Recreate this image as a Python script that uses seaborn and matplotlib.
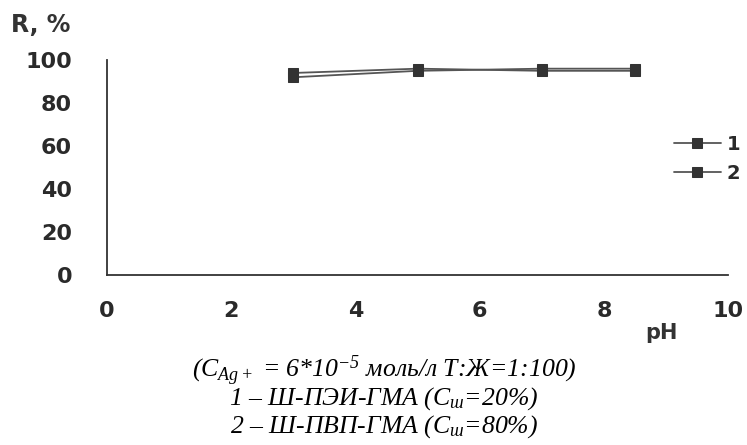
import matplotlib
matplotlib.use("Agg")
import matplotlib.pyplot as plt
import seaborn as sns
import pandas as pd

ph = [3, 5, 7, 8.5]
series1 = [92, 95, 96, 96]
series2 = [94, 96, 95, 95]
labels = ["1", "2"]
xticks = [0, 2, 4, 6, 8, 10]
yticks = [0, 20, 40, 60, 80, 100]

df = pd.DataFrame({
    "pH": ph * 2,
    "R": series1 + series2,
    "series": [labels[0]] * len(ph) + [labels[1]] * len(ph),
})

sns.set_theme(style="white")
plt.rcParams["font.family"] = ["DejaVu Sans"]
plt.rcParams["mathtext.fontset"] = "custom"
plt.rcParams["mathtext.rm"] = "Liberation Serif:italic"
plt.rcParams["mathtext.it"] = "Liberation Serif:italic"

fig = plt.figure(figsize=(7.47, 4.45), dpi=100)
ax = fig.add_axes([0.143, 0.382, 0.832, 0.483])

sns.lineplot(data=df, x="pH", y="R", hue="series", style="series",
             palette=["#555555", "#555555"], markers=["s", "s"], dashes=False,
             markersize=7, markeredgecolor="#333333", markerfacecolor="#333333",
             linewidth=1.3, ax=ax, legend=True)

ax.set_xlim(0, 10)
ax.set_ylim(0, 100)
ax.set_xticks(xticks)
ax.set_yticks(yticks)
ax.set_xticklabels([str(t) for t in xticks])
ax.set_yticklabels([str(t) for t in yticks])
ax.set_xlabel("")
ax.set_ylabel("")
for s in ["top", "right"]:
    ax.spines[s].set_visible(False)
for s in ["left", "bottom"]:
    ax.spines[s].set_color("#333333")
    ax.spines[s].set_linewidth(1.3)
ax.tick_params(axis="both", direction="out", length=5, width=1.2, color="#333333",
               labelsize=16, labelcolor="#2a2a2a")
ax.tick_params(axis="x", pad=14)
ax.tick_params(axis="y", pad=20)
for lab in ax.get_xticklabels() + ax.get_yticklabels():
    lab.set_fontweight("bold")

leg = ax.legend(loc="center left", bbox_to_anchor=(0.9, 0.54), frameon=False,
                fontsize=14, handlelength=2.4, labelspacing=0.55, handletextpad=0.3,
                borderaxespad=0)
for t in leg.get_texts():
    t.set_fontweight("bold")
    t.set_color("#2a2a2a")

fig.text(0.015, 0.944, "R, %", fontsize=17, fontweight="bold", color="#333333",
         ha="left", va="center")
fig.text(0.886, 0.252, "pH", fontsize=15, fontweight="bold", color="#333333",
         ha="center", va="center")

cap = [
    r"($C_{Ag+}$ = 6*10$^{-5}$ моль/л Т:Ж=1:100)",
    r"1 – Ш-ПЭИ-ГМА ($C_{ш}$=20%)",
    r"2 – Ш-ПВП-ГМА ($C_{ш}$=80%)",
]
ys = [0.168, 0.104, 0.042]
for t, y in zip(cap, ys):
    fig.text(0.514, y, t, fontsize=18.5, family="Liberation Serif", style="italic",
             ha="center", va="center", color="black")

fig.savefig("out.png", dpi=100)
